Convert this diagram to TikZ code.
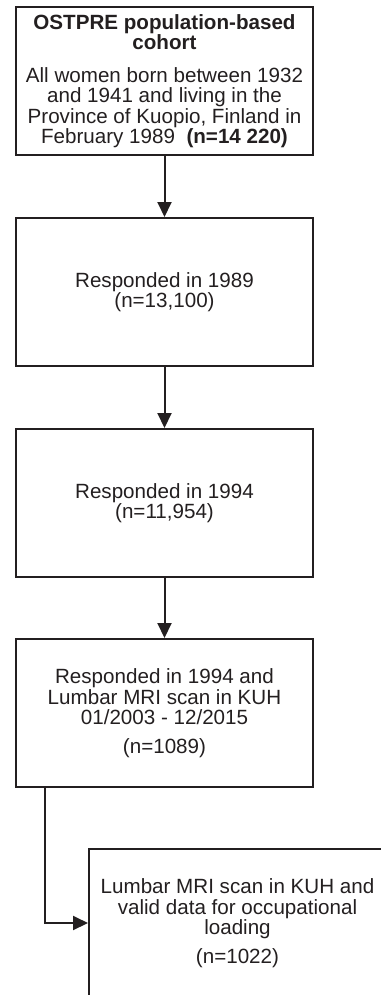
\documentclass[tikz,border=0pt]{standalone}
\usepackage{fontspec}
\setmainfont{Liberation Sans}
\usetikzlibrary{arrows.meta}
\definecolor{inkgray}{RGB}{35,31,32}

\begin{document}
\begin{tikzpicture}[x=1pt, y=1pt,
		box/.style={draw=inkgray, line width=2pt, minimum width=297pt, minimum height=148pt,
			inner sep=2pt, align=center, text=inkgray, font=\fontsize{20.6}{20.5}\selectfont},
		flow/.style={draw=inkgray, line width=2pt, -{Triangle[length=15pt,width=14pt]}}]
		\useasboundingbox (0,0) rectangle (380,-995);

		\node[box] (cohort) at (164.5,-81) {\textbf{OSTPRE population-based}\\\textbf{cohort}\\[12pt]
			All women born between 1932\\and 1941 and living in the\\Province of Kuopio, Finland in\\February 1989~ \textbf{(n=14 220)}};
		\node[box] (resp89) at (164.5,-292) {Responded in 1989\\(n=13,100)};
		\node[box] (resp94) at (164.5,-503) {Responded in 1994\\(n=11,954)};
		\node[box] (mri) at (164.5,-713) {Responded in 1994 and\\Lumbar MRI scan in KUH\\01/2003 - 12/2015\\[8pt](n=1089)};
		\node[box] (valid) at (237.5,-923) {Lumbar MRI scan in KUH and\\valid data for occupational\\loading\\[8pt](n=1022)};

		\path [flow] (cohort) -- (resp89);
		\path [flow] (resp89) -- (resp94);
		\path [flow] (resp94) -- (mri);

		\path (mri.south west) ++(30,0) coordinate (mriout);
		\path [flow] (mriout) |- (valid);
\end{tikzpicture}
\end{document}
